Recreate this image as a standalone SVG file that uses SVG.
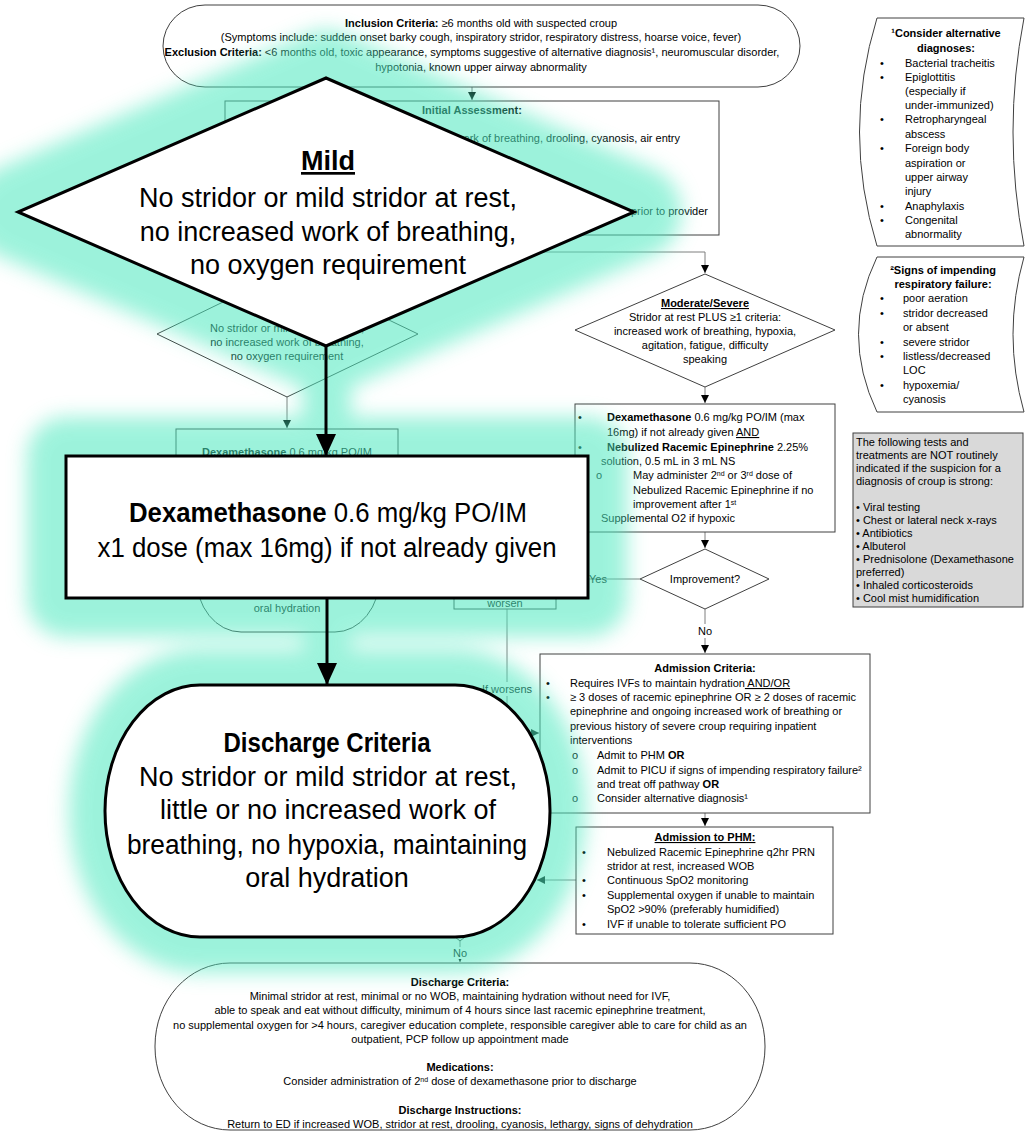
<svg xmlns="http://www.w3.org/2000/svg" width="1030" height="1135" viewBox="0 0 1030 1135">
<defs>
<style>
text { font-family: "Liberation Sans", Arial, sans-serif; font-size: 11px; fill: #000; }
.c { text-anchor: middle; }
.e { text-anchor: end; }
.b { font-weight: bold; }
.u { text-decoration: underline; }
.sm { font-size: 7px; }
.node { fill: #fff; stroke: #404040; stroke-width: 1; }
.gray { fill: #d9d9d9; stroke: #404040; stroke-width: 1; }
.conn { fill: none; stroke: #7f7f7f; stroke-width: 1; }
.big { fill: #fff; stroke: #000; stroke-width: 3; }
.bigc { fill: none; stroke: #000; stroke-width: 3; }
.bt { font-size: 27px; }
.gl { fill: #4de9bf; stroke: #4de9bf; stroke-linejoin: round; }
.lbl { fill: #fff; }
</style>
<marker id="a" markerUnits="userSpaceOnUse" markerWidth="8" markerHeight="8" viewBox="0 0 8 8" refX="8" refY="4" orient="auto"><path d="M0,0 L8,4 L0,8 Z" fill="#000"/></marker>
<marker id="A" markerUnits="userSpaceOnUse" markerWidth="22" markerHeight="20" viewBox="0 0 22 20" refX="22" refY="10" orient="auto"><path d="M0,0 L22,10 L0,20 Z" fill="#000"/></marker>
<filter id="blur" x="-20%" y="-20%" width="140%" height="140%"><feGaussianBlur stdDeviation="10"/></filter>
</defs>
<rect width="1030" height="1135" fill="#fff"/>

<!-- base connectors -->
<g id="connectors">
<path class="conn" d="M472,87 V100" marker-end="url(#a)"/>
<path class="conn" d="M472,235 V252 H705 V273" marker-end="url(#a)"/>
<path class="conn" d="M472,252 H287 V270" marker-end="url(#a)"/>
<path class="conn" d="M287,397 V428" marker-end="url(#a)"/>
<path class="conn" d="M705,387 V403" marker-end="url(#a)"/>
<path class="conn" d="M705,532 V548" marker-end="url(#a)"/>
<path class="conn" d="M640,579 H381" marker-end="url(#a)"/>
<path class="conn" d="M705,609 V653" marker-end="url(#a)"/>
<path class="conn" d="M507,609 V733 H539" marker-end="url(#a)"/>
<path class="conn" d="M705,813 V826" marker-end="url(#a)"/>
<path class="conn" d="M576,880 H537" marker-end="url(#a)"/>
<path class="conn" d="M460,941 V962" marker-end="url(#a)"/>
<rect class="lbl" x="693" y="624" width="24" height="14"/>
<text class="c" x="705" y="635">No</text>
<rect class="lbl" x="479" y="682" width="56" height="14"/>
<text class="c" x="507" y="693">If worsens</text>
<text class="e" x="607" y="583">Yes</text>
<rect class="lbl" x="450" y="947" width="22" height="12"/>
<text class="c" x="460" y="957">No</text>
</g>

<!-- base nodes -->
<g id="n-start">
<rect class="node" x="163" y="5" width="637" height="82" rx="42" ry="41"/>
<text class="c" x="481" y="27"><tspan class="b">Inclusion Criteria:</tspan> ≥6 months old with suspected croup</text>
<text class="c" x="481" y="41">(Symptoms include: sudden onset barky cough, inspiratory stridor, respiratory distress, hoarse voice, fever)</text>
<text class="c" x="472" y="56" font-size="10.5"><tspan class="b">Exclusion Criteria:</tspan> &lt;6 months old, toxic appearance, symptoms suggestive of alternative diagnosis¹, neuromuscular disorder,</text>
<text class="c" x="481" y="71">hypotonia, known upper airway abnormality</text>
</g>
<g id="n-initial">
<rect class="node" x="225" y="101" width="494" height="134"/>
<text class="c b" x="472" y="114">Initial Assessment:</text>
<text class="e" x="680" y="142">work of breathing, drooling, cyanosis, air entry</text>
<text class="e" x="708" y="215">prior to provider</text>
</g>
<g id="n-mild-small">
<polygon class="node" points="287,271 418,334 287,397 157,334"/>
<text class="c" x="287" y="332">No stridor or mild stridor at rest,</text>
<text class="c" x="287" y="346">no increased work of breathing,</text>
<text class="c" x="287" y="360">no oxygen requirement</text>
</g>
<g id="n-dex-small">
<rect class="node" x="176" y="429" width="222" height="90"/>
<text class="c" x="287" y="456"><tspan class="b">Dexamethasone</tspan> 0.6 mg/kg PO/IM</text>
</g>
<g id="n-discharge-small">
<rect class="node" x="196" y="520" width="184" height="112" rx="45" ry="56"/>
<text class="c" x="287" y="612">oral hydration</text>
</g>
<g id="n-worsen">
<rect class="node" x="454" y="560" width="102" height="49"/>
<text class="c" x="505" y="607">worsen</text>
</g>
<g id="n-modsev">
<polygon class="node" points="705,274 835,330 705,387 575,330"/>
<text class="c b u" x="705" y="307">Moderate/Severe</text>
<text class="c" x="705" y="321">Stridor at rest PLUS ≥1 criteria:</text>
<text class="c" x="705" y="335">increased work of breathing, hypoxia,</text>
<text class="c" x="705" y="349">agitation, fatigue, difficulty</text>
<text class="c" x="705" y="363">speaking</text>
</g>
<g id="n-modbox">
<rect class="node" x="575" y="404" width="260" height="128"/>
<text x="578" y="421">•</text>
<text x="607" y="421"><tspan class="b">Dexamethasone</tspan> 0.6 mg/kg PO/IM (max</text>
<text x="607" y="436">16mg) if not already given <tspan class="u">AND</tspan></text>
<text x="578" y="451">•</text>
<text x="607" y="451" font-size="10.5"><tspan class="b">Nebulized Racemic Epinephrine</tspan> 2.25%</text>
<text x="601" y="465">solution, 0.5 mL in 3 mL NS</text>
<text x="596" y="479" font-size="8">o</text>
<text x="633" y="479">May administer 2<tspan class="sm" dy="-3">nd</tspan><tspan dy="3"> or 3</tspan><tspan class="sm" dy="-3">rd</tspan><tspan dy="3"> dose of</tspan></text>
<text x="633" y="494">Nebulized Racemic Epinephrine if no</text>
<text x="633" y="508">improvement after 1<tspan class="sm" dy="-3">st</tspan></text>
<text x="601" y="522">Supplemental O2 if hypoxic</text>
</g>
<g id="n-improve">
<polygon class="node" points="705,549 769,579 705,609 640,579"/>
<text class="c" x="705" y="583">Improvement?</text>
</g>
<g id="n-admission">
<rect class="node" x="540" y="654" width="330" height="159"/>
<text class="c b" x="705" y="672">Admission Criteria:</text>
<text x="546" y="687">•</text>
<text x="570" y="687">Requires IVFs to maintain hydration<tspan class="u"> AND/OR</tspan></text>
<text x="546" y="701">•</text>
<text x="570" y="701"> ≥ 3 doses of racemic epinephrine OR ≥ 2 doses of racemic</text>
<text x="570" y="715">epinephrine and ongoing increased work of breathing or</text>
<text x="570" y="730">previous history of severe croup requiring inpatient</text>
<text x="570" y="744">interventions</text>
<text x="572" y="759" font-size="8">o</text>
<text x="597" y="759">Admit to PHM <tspan class="b">OR</tspan></text>
<text x="572" y="774" font-size="8">o</text>
<text x="597" y="774">Admit to PICU if signs of impending respiratory failure²</text>
<text x="597" y="788">and treat off pathway <tspan class="b">OR</tspan></text>
<text x="572" y="802" font-size="8">o</text>
<text x="597" y="802">Consider alternative diagnosis¹</text>
</g>
<g id="n-phm">
<rect class="node" x="576" y="827" width="257" height="107"/>
<text class="c b u" x="705" y="841">Admission to PHM:</text>
<text x="582" y="856">•</text>
<text x="607" y="856">Nebulized Racemic Epinephrine q2hr PRN</text>
<text x="607" y="870">stridor at rest, increased WOB</text>
<text x="582" y="884">•</text>
<text x="607" y="884">Continuous SpO2 monitoring</text>
<text x="582" y="899">•</text>
<text x="607" y="899">Supplemental oxygen if unable to maintain</text>
<text x="607" y="913">SpO2 &gt;90% (preferably humidified)</text>
<text x="582" y="928">•</text>
<text x="607" y="928">IVF if unable to tolerate sufficient PO</text>
</g>
<g id="n-decision-hidden">
<polygon class="node" points="460,819 535,880 460,941 385,880"/>
</g>
<g id="n-discharge-final">
<rect class="node" x="155" y="963" width="610" height="167" rx="75" ry="83"/>
<text class="c b" x="460" y="986">Discharge Criteria:</text>
<text class="c" x="460" y="1000">Minimal stridor at rest, minimal or no WOB, maintaining hydration without need for IVF,</text>
<text class="c" x="460" y="1014">able to speak and eat without difficulty, minimum of 4 hours since last racemic epinephrine treatment,</text>
<text class="c" x="460" y="1029" font-size="10.7">no supplemental oxygen for &gt;4 hours, caregiver education complete, responsible caregiver able to care for child as an</text>
<text class="c" x="460" y="1043">outpatient, PCP follow up appointment made</text>
<text class="c b" x="460" y="1071">Medications:</text>
<text class="c" x="460" y="1085">Consider administration of 2<tspan class="sm" dy="-3">nd</tspan><tspan dy="3"> dose of dexamethasone prior to discharge</tspan></text>
<text class="c b" x="460" y="1114">Discharge Instructions:</text>
<text class="c" x="460" y="1128">Return to ED if increased WOB, stridor at rest, drooling, cyanosis, lethargy, signs of dehydration</text>
</g>
<g id="n-alt-dx">
<path class="node" d="M877,18 H1024 Q1002,132 1024,246 H877 Q842,132 877,18 Z"/>
<text class="c b" x="946" y="37">¹Consider alternative</text>
<text class="c b" x="946" y="52">diagnoses:</text>
<text x="880" y="67">•</text><text x="905" y="67">Bacterial tracheitis</text>
<text x="880" y="81">•</text><text x="905" y="81">Epiglottitis</text>
<text x="905" y="95">(especially if</text>
<text x="905" y="109">under-immunized)</text>
<text x="880" y="123">•</text><text x="905" y="123">Retropharyngeal</text>
<text x="905" y="138">abscess</text>
<text x="880" y="152">•</text><text x="905" y="152">Foreign body</text>
<text x="905" y="167">aspiration or</text>
<text x="905" y="181">upper airway</text>
<text x="905" y="195">injury</text>
<text x="880" y="210">•</text><text x="905" y="210">Anaphylaxis</text>
<text x="880" y="224">•</text><text x="905" y="224">Congenital</text>
<text x="905" y="238">abnormality</text>
</g>
<g id="n-resp-failure">
<path class="node" d="M877,257 H1024 Q1002,334 1024,412 H877 Q840,334 877,257 Z"/>
<text class="c b" x="943" y="274">²Signs of impending</text>
<text class="c b" x="943" y="288">respiratory failure:</text>
<text x="880" y="302">•</text><text x="903" y="302">poor aeration</text>
<text x="880" y="317">•</text><text x="903" y="317">stridor decreased</text>
<text x="903" y="331">or absent</text>
<text x="880" y="346">•</text><text x="903" y="346">severe stridor</text>
<text x="880" y="360">•</text><text x="903" y="360">listless/decreased</text>
<text x="903" y="374">LOC</text>
<text x="880" y="389">•</text><text x="903" y="389">hypoxemia/</text>
<text x="903" y="403">cyanosis</text>
</g>
<g id="n-not-indicated">
<rect class="gray" x="853" y="433" width="170" height="174"/>
<text x="856" y="446">The following tests and</text>
<text x="856" y="459">treatments are NOT routinely</text>
<text x="856" y="472">indicated if the suspicion for a</text>
<text x="856" y="485">diagnosis of croup is strong:</text>
<text x="856" y="511">• Viral testing</text>
<text x="856" y="524">• Chest or lateral neck x-rays</text>
<text x="856" y="537">• Antibiotics</text>
<text x="856" y="550">• Albuterol</text>
<text x="856" y="563">• Prednisolone (Dexamethasone</text>
<text x="856" y="576">preferred)</text>
<text x="856" y="589">• Inhaled corticosteroids</text>
<text x="856" y="602">• Cool mist humidification</text>
</g>

<!-- highlight glow -->
<g id="glow" opacity="0.55">
<g filter="url(#blur)">
<polygon class="gl" points="326,78 634,212 326,346 18,212" stroke-width="95"/>
<line x1="327" y1="340" x2="327" y2="460" stroke="#4de9bf" stroke-width="48"/>
<rect class="gl" x="66" y="456" width="522" height="142" stroke-width="78"/>
<line x1="327" y1="595" x2="327" y2="690" stroke="#4de9bf" stroke-width="48"/>
<rect class="gl" x="105" y="685" width="445" height="252" rx="95" ry="126" stroke-width="72"/>
</g>
</g>

<!-- highlighted nodes -->
<g id="hl-connectors">
<line class="bigc" x1="326" y1="346" x2="326" y2="456" marker-end="url(#A)"/>
<line class="bigc" x1="327" y1="598" x2="327" y2="685" marker-end="url(#A)"/>
</g>
<g id="hl-mild">
<polygon class="big" points="326,78 634,212 326,346 18,212"/>
<text class="c b bt u" x="328" y="170">Mild</text>
<text class="c bt" x="328" y="207">No stridor or mild stridor at rest,</text>
<text class="c bt" x="328" y="241">no increased work of breathing,</text>
<text class="c bt" x="328" y="274">no oxygen requirement</text>
</g>
<g id="hl-dex">
<rect class="big" x="66" y="456" width="522" height="142"/>
<text class="c bt" x="328" y="522" textLength="398" lengthAdjust="spacingAndGlyphs"><tspan class="b">Dexamethasone</tspan> 0.6 mg/kg PO/IM</text>
<text class="c bt" x="327" y="557" textLength="459" lengthAdjust="spacingAndGlyphs">x1 dose (max 16mg) if not already given</text>
</g>
<g id="hl-discharge">
<rect class="big" x="105" y="685" width="445" height="252" rx="95" ry="126"/>
<text class="c b bt" x="327" y="752" textLength="207" lengthAdjust="spacingAndGlyphs">Discharge Criteria</text>
<text class="c bt" x="328" y="786">No stridor or mild stridor at rest,</text>
<text class="c bt" x="328" y="819">little or no increased work of</text>
<text class="c bt" x="327" y="854" textLength="400" lengthAdjust="spacingAndGlyphs">breathing, no hypoxia, maintaining</text>
<text class="c bt" x="327" y="887">oral hydration</text>
</g>
</svg>
